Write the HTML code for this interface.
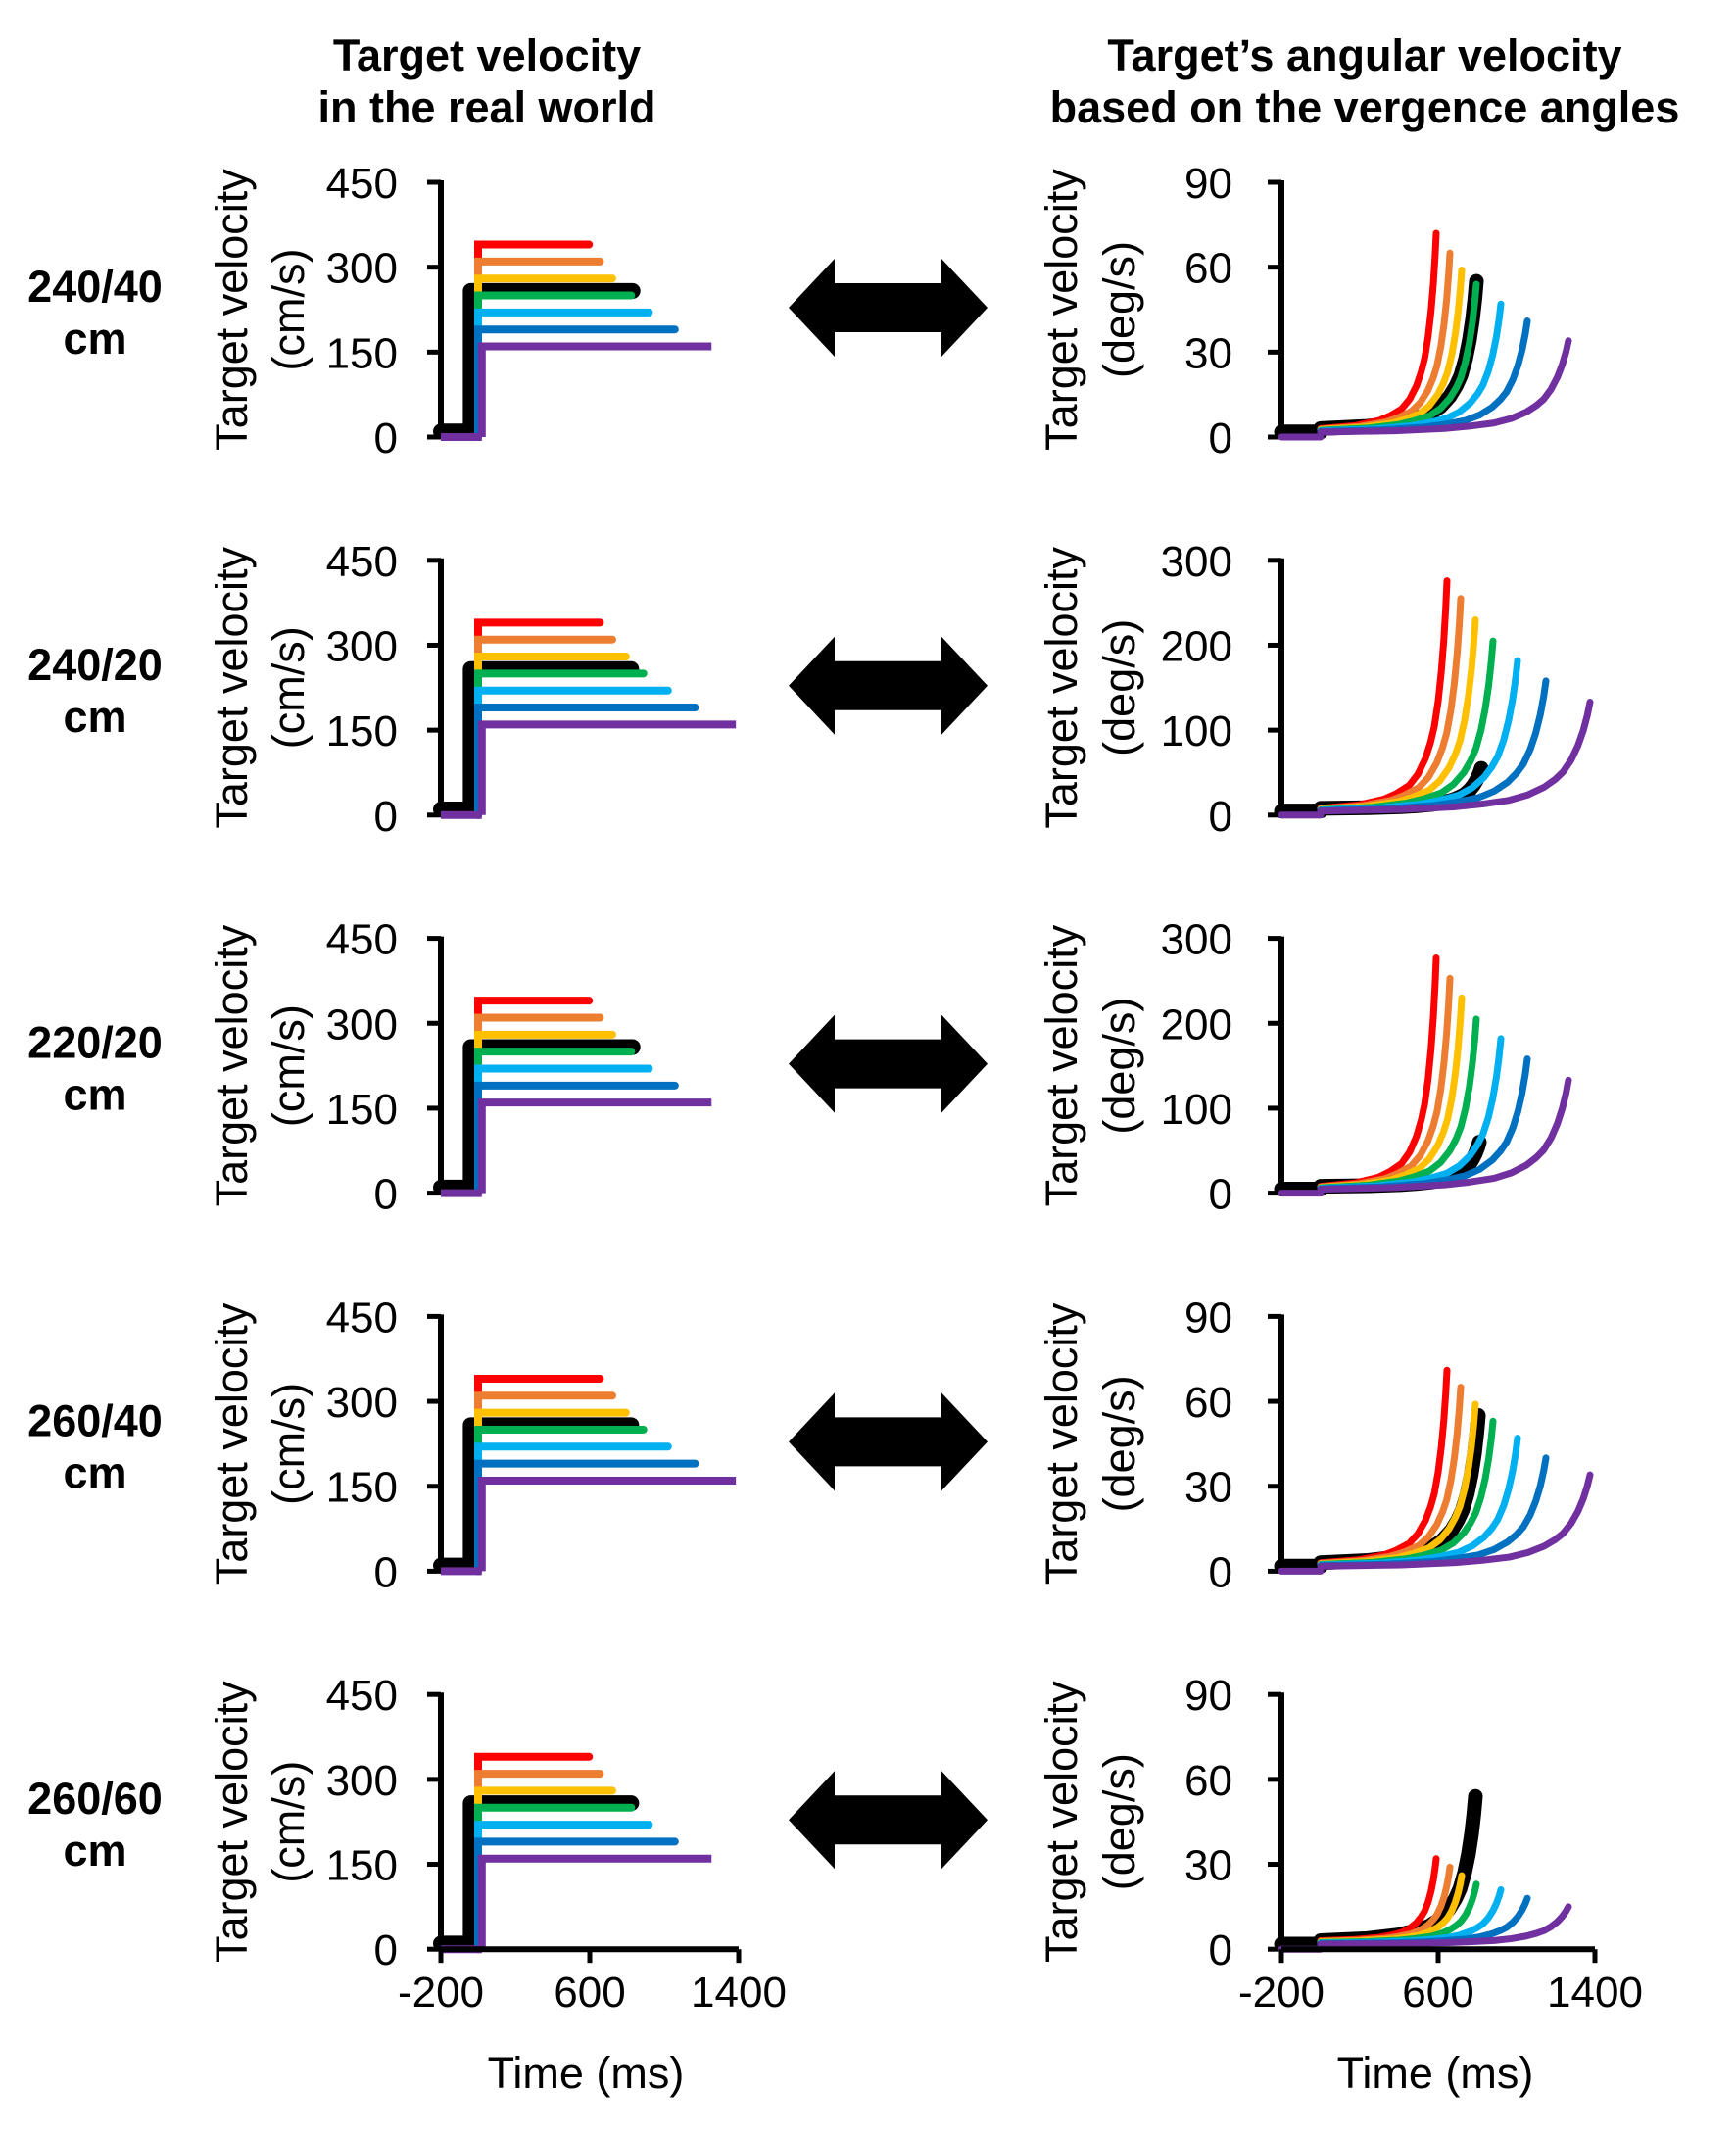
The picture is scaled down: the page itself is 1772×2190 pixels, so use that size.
<!DOCTYPE html>
<html><head><meta charset="utf-8"><style>
html,body{margin:0;padding:0;background:#fff;}
svg{display:block;font-family:"Liberation Sans",Arial,sans-serif;}
</style></head><body>
<svg id="fig" width="1772" height="2190" viewBox="0 0 1772 2190" xmlns="http://www.w3.org/2000/svg">
<text x="497" y="72" text-anchor="middle" font-size="45" font-weight="bold"><tspan x="497">Target velocity</tspan><tspan x="497" dy="53">in the real world</tspan></text>
<text x="1393" y="72" text-anchor="middle" font-size="45" font-weight="bold"><tspan x="1393">Target’s angular velocity</tspan><tspan x="1393" dy="53">based on the vergence angles</tspan></text>
<g id="plots"></g>
</svg>
<script>
const rowLabels = ["240/40", "240/20", "220/20", "260/40", "260/60"];
const seriesNames = ["red", "orange", "yellow", "green", "cyan", "blue", "purple"];
const seriesColors = ["#ff0000", "#ed7d31", "#ffc000", "#00b050", "#00b0f0", "#0070c0", "#7030a0"];
const leftLevels = [340, 310, 280, 250, 220, 190, 160];
const blackLevel = 258;
const leftEnds = [
  [596, 655, 721, 823, 918, 1057, 1254],
  [655, 721, 794, 888, 1020, 1166, 1385],
  [596, 655, 721, 823, 918, 1057, 1254],
  [655, 721, 794, 888, 1020, 1166, 1385],
  [596, 655, 721, 823, 918, 1057, 1254]
];
const leftBlackEnds = [830, 823, 830, 823, 823];
const leftTicks = [0, 150, 300, 450];
const rightMax = [90, 300, 300, 90, 90];
const rightTicks = [[0, 30, 60, 90], [0, 100, 200, 300], [0, 100, 200, 300], [0, 30, 60, 90], [0, 30, 60, 90]];
const rightEnds = [
  [590, 660, 720, 795, 920, 1055, 1265],
  [645, 715, 790, 880, 1005, 1150, 1375],
  [590, 660, 720, 795, 920, 1055, 1265],
  [645, 715, 790, 880, 1005, 1150, 1375],
  [590, 660, 720, 795, 920, 1055, 1265]
];
const rightPeaks = [
  [72, 65, 59, 54, 47, 41, 34],
  [276, 255, 230, 205, 182, 158, 133],
  [277, 253, 230, 205, 182, 158, 133],
  [71, 65, 59, 53, 47, 40, 34],
  [32, 29, 26, 23, 21, 18, 15]
];
const rightBlackEnd = [795, 820, 810, 805, 790];
const rightBlackPeak = [55, 55, 60, 55, 54];
const rightBase = [3, 8, 8, 3, 3];
const shapeFrac = [0, 0.3, 0.5, 0.6, 0.7, 0.77, 0.83, 0.87, 0.9, 0.93, 0.955, 0.975, 0.99, 1];
const shapeVal = [0, 0.015, 0.04, 0.065, 0.1, 0.15, 0.22, 0.29, 0.36, 0.47, 0.6, 0.74, 0.88, 1];
const timeTicks = [-200, 600, 1400];

const NS = "http://www.w3.org/2000/svg";
const root = document.getElementById("plots");
function mk(tag, attrs, parent) {
  const e = document.createElementNS(NS, tag);
  for (const k in attrs) e.setAttribute(k, attrs[k]);
  (parent || root).appendChild(e);
  return e;
}
const rowTop0 = 186, rowStep = 385.8, plotH = 260;
const LX0 = 450, LX1 = 754, RX0 = 1308, RX1 = 1628;
function xL(t) { return LX0 + (t + 200) / 1600 * (LX1 - LX0); }
function xR(t) { return RX0 + (t + 200) / 1600 * (RX1 - RX0); }

for (let r = 0; r < 5; r++) {
  const top = rowTop0 + r * rowStep, bot = top + plotH;
  const yL = v => bot - v / 450 * plotH;
  const yR = v => bot - v / rightMax[r] * plotH;
  const g = mk("g", {});
  
  
  const lab = mk("text", {x: 97, y: top + 122, "text-anchor": "middle", "font-size": 45, "font-weight": "bold"}, g);
  
  
  lab.innerHTML = '<tspan x="97">' + rowLabels[r] + '</tspan><tspan x="97" dy="53">cm</tspan>';

  const gl = mk("g", {}, g);
  
  
  [[236, "Target velocity"], [294, "(cm/s)"]].forEach(([cx, s]) => {
    const t = mk("text", {x: 0, y: 0, "text-anchor": "middle", "font-size": 45, transform: `translate(${cx + 16},${top + plotH / 2}) rotate(-90)`}, gl);
    
    
    t.textContent = s;
  });
  leftTicks.forEach(v => {
    mk("line", {x1: LX0 - 14, x2: LX0, y1: yL(v), y2: yL(v), stroke: "#000", "stroke-width": 5}, gl);
    const t = mk("text", {x: 406, y: yL(v) + 16, "text-anchor": "end", "font-size": 44}, gl);
    
    
    t.textContent = v;
  });
  mk("line", {x1: LX0, x2: LX0, y1: top - 2, y2: bot + 2, stroke: "#000", "stroke-width": 6}, gl);
  const bl = mk("path", {d: `M${xL(-200)},${yL(10)} L${xL(-40)},${yL(10)} L${xL(-40)},${yL(blackLevel)} L${xL(leftBlackEnds[r])},${yL(blackLevel)}`, fill: "none", stroke: "#000", "stroke-width": 16, "stroke-linecap": "round", "stroke-linejoin": "round"}, gl);
  
  
  for (let i = 0; i < 7; i++) {
    const xv = i === 6 ? 20 : 0;
    const p = mk("path", {d: `M${xL(xv)},${yL(0)} L${xL(xv)},${yL(leftLevels[i])} L${xL(leftEnds[r][i])},${yL(leftLevels[i])}` + (i === 6 ? ` M${xL(-200)},${yL(0)} L${xL(xv)},${yL(0)}` : ""), fill: "none", stroke: seriesColors[i], "stroke-width": 8, "stroke-linecap": i === 6 ? "butt" : "round"}, gl);
    
    
  }

  const cy = top + 128;
  const ar = mk("polygon", {points: `805,${cy} 852,${cy - 50} 852,${cy - 25} 961,${cy - 25} 961,${cy - 50} 1008,${cy} 961,${cy + 50} 961,${cy + 25} 852,${cy + 25} 852,${cy + 50}`, fill: "#000"}, g);
  
  

  const gr = mk("g", {}, g);
  
  
  [[1083, "Target velocity"], [1142, "(deg/s)"]].forEach(([cx, s]) => {
    const t = mk("text", {x: 0, y: 0, "text-anchor": "middle", "font-size": 45, transform: `translate(${cx + 16},${top + plotH / 2}) rotate(-90)`}, gr);
    
    
    t.textContent = s;
  });
  rightTicks[r].forEach(v => {
    mk("line", {x1: RX0 - 14, x2: RX0, y1: yR(v), y2: yR(v), stroke: "#000", "stroke-width": 5}, gr);
    const t = mk("text", {x: 1258, y: yR(v) + 16, "text-anchor": "end", "font-size": 44}, gr);
    
    
    t.textContent = v;
  });
  mk("line", {x1: RX0, x2: RX0, y1: top - 2, y2: bot + 2, stroke: "#000", "stroke-width": 6}, gr);
  function curve(end, peak, base, start) {
    let d = `M${xR(start)},${yR(base)}`;
    for (let k = 0; k < shapeFrac.length; k++) {
      const t = shapeFrac[k] * end;
      if (t < start) continue;
      d += ` L${xR(t)},${yR(base + (peak - base) * shapeVal[k])}`;
    }
    return d;
  }
  const base = rightBase[r];
  const bk = mk("path", {d: `M${xR(-200)},${yR(base * 0.6)} L${xR(0)},${yR(base * 0.6)} ` + curve(rightBlackEnd[r], rightBlackPeak[r], base, 0).replace("M", "L"), fill: "none", stroke: "#000", "stroke-width": 15, "stroke-linecap": "round", "stroke-linejoin": "round"}, gr);
  
  
  for (let i = 0; i < 7; i++) {
    const b = base * (1 - i * 0.07);
    const p = mk("path", {d: curve(rightEnds[r][i], rightPeaks[r][i], b, 0) + (i === 6 ? ` M${xR(-200)},${yR(0)} L${xR(0)},${yR(0)}` : ""), fill: "none", stroke: seriesColors[i], "stroke-width": 7, "stroke-linecap": "round", "stroke-linejoin": "round"}, gr);
    
    
  }

  if (r === 4) {
    [[xL, LX0, LX1, 598], [xR, RX0, RX1, 1465]].forEach(([fx, a, b, cx]) => {
      const ax = mk("line", {x1: a, x2: b, y1: bot, y2: bot, stroke: "#000", "stroke-width": 6});
      
      
      timeTicks.forEach(t => {
        mk("line", {x1: fx(t), x2: fx(t), y1: bot, y2: bot + 14, stroke: "#000", "stroke-width": 5});
        const tx = mk("text", {x: fx(t), y: bot + 59, "text-anchor": "middle", "font-size": 44});
        
        
        tx.textContent = t;
      });
      const tt = mk("text", {x: cx, y: 2131, "text-anchor": "middle", "font-size": 45});
      
      
      tt.textContent = "Time (ms)";
    });
  }
}
</script>
</body></html>
